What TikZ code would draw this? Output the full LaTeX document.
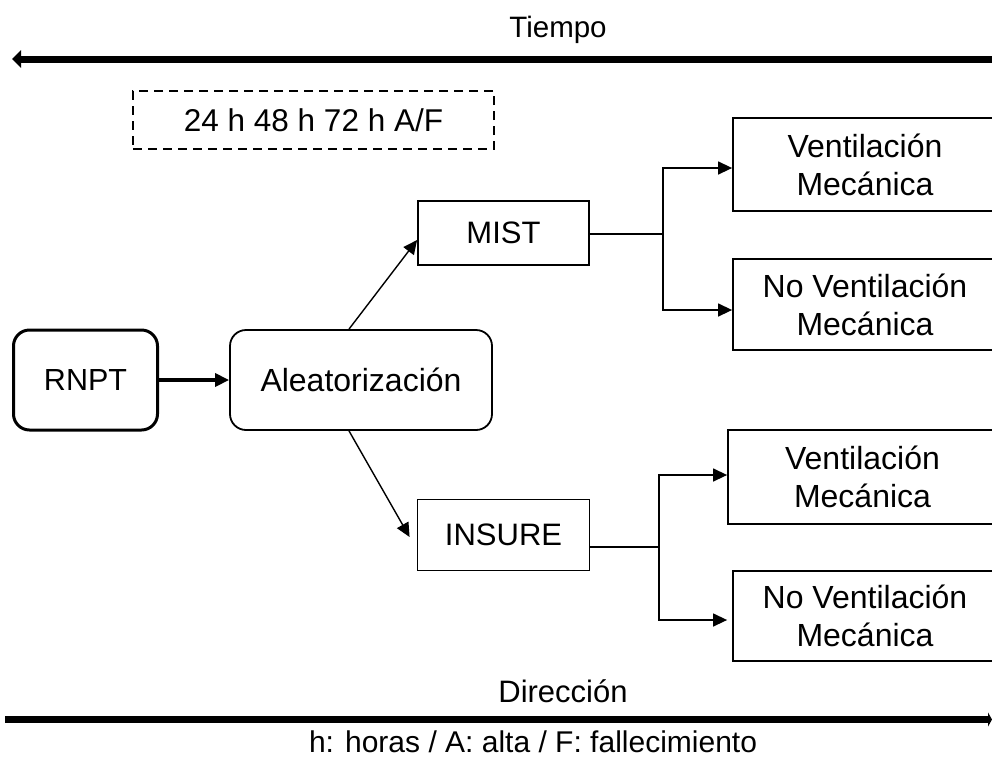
\documentclass[tikz,border=0pt]{standalone}
\usepackage{fontspec}
\setmainfont{Liberation Sans}
\usetikzlibrary{arrows.meta}
\begin{document}
\begin{tikzpicture}[x=1pt,y=-1pt,
  every node/.style={font=\fontsize{32}{38}\selectfont, align=center, inner sep=0pt},
  sqbox/.style={draw, line width=1.8pt, rectangle},
  rbox/.style={draw, rounded corners=16pt, rectangle},
  conn/.style={line width=1.4pt, -{Triangle[length=14pt,width=13pt]}},
  bigline/.style={line width=7pt}
]
\useasboundingbox (0,0) rectangle (992,758);
\clip (0,0) rectangle (992,758);
% time axis
\node[font=\fontsize{29.5}{35}\selectfont] (tiempo) at (558,30) {Tiempo};
\coordinate (tl) at (12,59);
\coordinate (tr) at (992,59);
\draw[bigline, -{Triangle[length=9pt,width=17pt]}] (tr) -- (tl);
% dashed box
\node[draw, line width=1.8pt, dash pattern=on 9pt off 6pt, minimum width=361pt, minimum height=58pt, font=\fontsize{31.5}{37}\selectfont] (times) at (313.5,120) {24 h 48 h 72 h A/F};
% main nodes
\node[rbox, line width=3pt, minimum width=144pt, minimum height=100pt, font=\fontsize{30.5}{37}\selectfont] (rnpt) at (85.5,380) {RNPT};
\node[rbox, line width=1.8pt, minimum width=262pt, minimum height=100pt] (alea) at (361,380) {Aleatorización};
\node[sqbox, minimum width=171pt, minimum height=64pt, font=\fontsize{31}{37}\selectfont] (mist) at (503.5,233) {MIST};
\node[sqbox, minimum width=172pt, minimum height=71pt, font=\fontsize{31}{37}\selectfont] (insure) at (503.5,535) {INSURE};
% outcome boxes
\node[sqbox, minimum width=264pt, minimum height=93pt] (vm1) at (865,164.5) {Ventilación\\Mecánica};
\node[sqbox, minimum width=264pt, minimum height=91pt] (nvm1) at (865,304.5) {No Ventilación\\Mecánica};
\node[sqbox, minimum width=269pt, minimum height=94pt] (vm2) at (862.5,477) {Ventilación\\Mecánica};
\node[sqbox, minimum width=264pt, minimum height=90pt] (nvm2) at (865,616) {No Ventilación\\Mecánica};
% arrows
\draw[line width=4pt, -{Triangle[length=14pt,width=13pt]}] (rnpt.east) -- (alea.west);
\draw[conn] ([xshift=-12pt]alea.north) -- ([yshift=-7pt]mist.west);
\draw[conn] ([xshift=-12pt]alea.south) -- ([xshift=-7pt,yshift=-2pt]insure.west);
% MIST branches
\coordinate (mj) at (663,234);
\draw[line width=1.4pt] (mist.east |- mj) -- (mj);
\draw[conn] (mj) |- ([yshift=-3.5pt]vm1.west);
\draw[conn] (mj) |- ([yshift=-5.5pt]nvm1.west);
% INSURE branches
\coordinate (ij) at (659,547);
\draw[line width=1.4pt] (insure.east |- ij) -- (ij);
\draw[conn] (ij) |- ([yshift=2pt]vm2.west);
\draw[conn] (ij) |- ([xshift=-5pt,yshift=-4pt]nvm2.west);
% direction axis
\node[font=\fontsize{31}{37}\selectfont] (dir) at (563,691) {Dirección};
\coordinate (bl) at (5,719.5);
\coordinate (br) at (992,719.5);
\draw[bigline, -{Triangle[length=4pt,width=14pt]}] (bl) -- (br);
\node[font=\fontsize{30}{36}\selectfont] (foot) at (533,742) {h: horas / A: alta / F: fallecimiento};
\end{tikzpicture}
\end{document}
